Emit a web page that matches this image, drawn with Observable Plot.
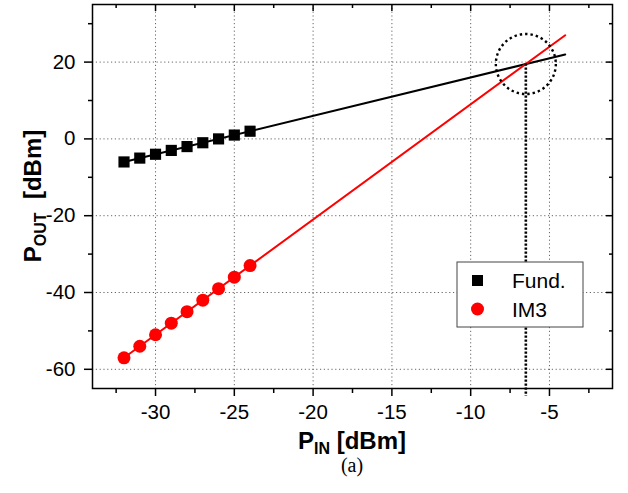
<!DOCTYPE html>
<html>
<head>
<meta charset="utf-8">
<script src="https://cdn.jsdelivr.net/npm/d3@7"></script>
<script src="https://cdn.jsdelivr.net/npm/@observablehq/plot@0.6"></script>
<style>
  html, body { margin: 0; padding: 0; background: white; }
</style>
</head>
<body>
<div id="chart"></div>
<script>
// ---- data ----
const pin = [-32, -31, -30, -29, -28, -27, -26, -25, -24];
const fundOut = [-6, -5, -4, -3, -2, -1, 0, 1, 2];
const im3Out = [-57, -54, -51, -48, -45, -42, -39, -36, -33];
const fitPin = [-32, -4];
const fundFit = [-6, 22];
const im3Fit = [-57, 27];
const ip3Pin = [-6.5];
const ip3Out = [19.5];
const xTicks = [-30, -25, -20, -15, -10, -5];
const xMinor = [-32.5, -27.5, -22.5, -17.5, -12.5, -7.5, -2.5];
const yTicks = [-60, -40, -20, 0, 20];
const yMinor = [-50, -30, -10, 10, 30];
const xDomain = [-34, -1];
const yDomain = [-65, 35];
const seriesNames = ["Fund.", "IM3"];

const fund = pin.map((x, i) => ({x, y: fundOut[i]}));
const im3 = pin.map((x, i) => ({x, y: im3Out[i]}));
const fundLine = fitPin.map((x, i) => ({x, y: fundFit[i]}));
const im3Line = fitPin.map((x, i) => ({x, y: im3Fit[i]}));
const ip3 = ip3Pin.map((x, i) => ({x, y: ip3Out[i]}));

const font = "'Liberation Sans', Arial, Helvetica, sans-serif";
const gridStyle = {stroke: "#666", strokeOpacity: 1, strokeWidth: 1, strokeDasharray: "1.2,2.6"};
const blank = () => "";
const plain = d => String(d);

const plot = Plot.plot({
  width: 628,
  height: 493,
  marginLeft: 92,
  marginRight: 16,
  marginTop: 4,
  marginBottom: 105,
  x: {domain: xDomain},
  y: {domain: yDomain},
  style: {fontFamily: font, fontSize: "20px", color: "black", background: "white", overflow: "visible"},
  marks: [
    Plot.gridX(xTicks, gridStyle),
    Plot.gridY(yTicks, gridStyle),
    Plot.line(fundLine, {x: "x", y: "y", stroke: "black", strokeWidth: 2}),
    Plot.line(im3Line, {x: "x", y: "y", stroke: "#ff0000", strokeWidth: 2}),
    Plot.ruleX(ip3, {x: "x", y1: "y", y2: () => yDomain[0], insetBottom: -8, stroke: "black", strokeWidth: 2.6, strokeDasharray: "2.2,1.8"}),
    Plot.dot(ip3, {x: "x", y: "y", r: 30, fill: "none", stroke: "black", strokeWidth: 2.4, strokeDasharray: "2.4,3"}),
    Plot.dot(fund, {x: "x", y: "y", symbol: "square", r: 6.3, fill: "black"}),
    Plot.dot(im3, {x: "x", y: "y", r: 6.5, fill: "#ff0000"}),
    Plot.frame({stroke: "black", strokeWidth: 1.5}),
    Plot.axisX(xTicks, {anchor: "bottom", tickSize: 8, tickPadding: 8, fontSize: 20.5, tickFormat: plain, label: null, strokeWidth: 1.5}),
    Plot.axisX(xMinor, {anchor: "bottom", tickSize: 5, tickFormat: blank, label: null, strokeWidth: 1.5}),
    Plot.axisX(xTicks, {anchor: "top", tickSize: -6, tickFormat: blank, label: null, strokeWidth: 1.5}),
    Plot.axisX(xMinor, {anchor: "top", tickSize: -3, tickFormat: blank, label: null, strokeWidth: 1.5}),
    Plot.axisY(yTicks, {anchor: "left", tickSize: 8, tickPadding: 9, fontSize: 20.5, tickFormat: plain, label: null, strokeWidth: 1.5}),
    Plot.axisY(yMinor, {anchor: "left", tickSize: 4, tickFormat: blank, label: null, strokeWidth: 1.5}),
    Plot.axisY(yTicks, {anchor: "right", tickSize: -7, tickFormat: blank, label: null, strokeWidth: 1.5}),
    Plot.axisY(yMinor, {anchor: "right", tickSize: -4, tickFormat: blank, label: null, strokeWidth: 1.5})
  ]
});

document.getElementById("chart").appendChild(plot);

const svg = d3.select(plot);
const sx = plot.scale("x"), sy = plot.scale("y");
const fx0 = sx.apply(xDomain[0]), fx1 = sx.apply(xDomain[1]);
const fy0 = sy.apply(yDomain[1]), fy1 = sy.apply(yDomain[0]);
const cx = (fx0 + fx1) / 2, cy = (fy0 + fy1) / 2;

// axis titles with subscripts
function title(g, main, sub, rest) {
  const t = g.append("text")
    .attr("text-anchor", "middle")
    .attr("font-family", font)
    .attr("font-weight", "bold")
    .attr("font-size", 24)
    .attr("fill", "black")
    .attr("xml:space", "preserve");
  t.append("tspan").text(main);
  t.append("tspan").attr("font-size", 16).attr("dy", 5).text(sub);
  t.append("tspan").attr("dy", -5).text(rest);
  return t;
}
title(svg.append("g").attr("transform", `translate(${cx},${fy1 + 61})`), "P", "IN", " [dBm]");
title(svg.append("g").attr("transform", `translate(${fx0 - 51},${cy}) rotate(-90)`), "P", "OUT", "  [dBm]");

// caption
svg.append("text")
  .attr("x", cx).attr("y", fy1 + 84)
  .attr("text-anchor", "middle")
  .attr("font-family", "'Liberation Serif', 'Times New Roman', serif")
  .attr("font-size", 20)
  .attr("fill", "black")
  .text("(a)");

// legend
const lg = svg.append("g").attr("transform", `translate(${fx1 - 155},${fy0 + 258})`);
lg.append("rect").attr("x", 0).attr("y", 0).attr("width", 126).attr("height", 65)
  .attr("fill", "white").attr("stroke", "#444").attr("stroke-width", 1);
lg.append("rect").attr("x", 15).attr("y", 13).attr("width", 11).attr("height", 11).attr("fill", "black");
lg.append("circle").attr("cx", 20.5).attr("cy", 47).attr("r", 6.5).attr("fill", "#ff0000");
lg.selectAll("text.lab").data(seriesNames).join("text")
  .attr("class", "lab")
  .attr("x", 55).attr("y", (d, i) => 26 + i * 29)
  .attr("text-anchor", "start")
  .attr("font-family", font).attr("font-size", 21).attr("fill", "black")
  .text(d => d);
</script>
</body>
</html>
